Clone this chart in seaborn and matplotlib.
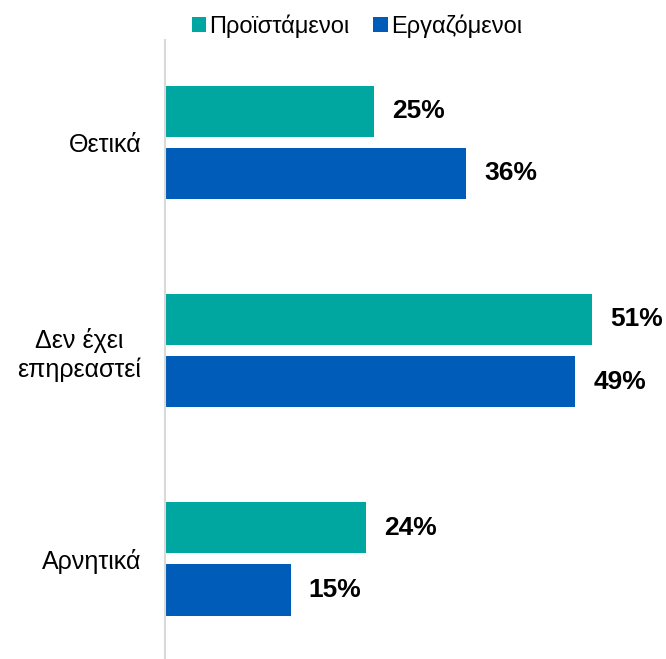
import pandas as pd
import matplotlib.pyplot as plt
import seaborn as sns

# data
categories = ["Θετικά", "Δεν έχει\nεπηρεαστεί", "Αρνητικά"]
series = ["Προϊστάμενοι", "Εργαζόμενοι"]
managers = [0.25, 0.51, 0.24]
employees = [0.36, 0.49, 0.15]
colors = ["#00A6A0", "#005CB9"]

df = pd.DataFrame({
    "category": categories * 2,
    "group": [series[0]] * 3 + [series[1]] * 3,
    "value": managers + employees,
})

sns.set_style("white")
plt.rcParams["font.family"] = ["Liberation Sans", "DejaVu Sans"]
plt.rcParams["text.color"] = "black"
plt.rcParams["ytick.color"] = "black"

fig = plt.figure(figsize=(6.66, 6.59), dpi=100)
ax = fig.add_axes([165 / 666, 0, 1 - 165 / 666, 619 / 659])

sns.barplot(data=df, y="category", x="value", hue="group", orient="h",
            palette=colors, width=0.596, gap=0.177, ax=ax, saturation=1,
            linewidth=0)

for cont in ax.containers:
    ax.bar_label(cont, labels=[f"{v * 100:.0f}%" for v in cont.datavalues],
                 padding=13, fontsize=19, fontweight="bold", color="black")

ax.set_xlim(0, 501 / 837)
ax.set_ylim(2.48, -0.49)
ax.set_xlabel("")
ax.set_ylabel("")
ax.set_xticks([])
ax.tick_params(axis="y", length=0, pad=17, labelsize=18)
for lab in ax.get_yticklabels():
    lab.set_multialignment("center")
for s in ["top", "right", "bottom"]:
    ax.spines[s].set_visible(False)
ax.spines["left"].set_color("#D9D9D9")
ax.spines["left"].set_linewidth(1.5)

ax.legend_.remove()
handles, labels = ax.get_legend_handles_labels()
fig.legend(handles, labels, loc="upper center", bbox_to_anchor=(0.536, 1.0),
           ncol=2, frameon=False, fontsize=17, handlelength=0.6,
           handleheight=0.6, handletextpad=0.15, columnspacing=1.0,
           borderaxespad=0.2)

fig.savefig("out.png", dpi=100)
